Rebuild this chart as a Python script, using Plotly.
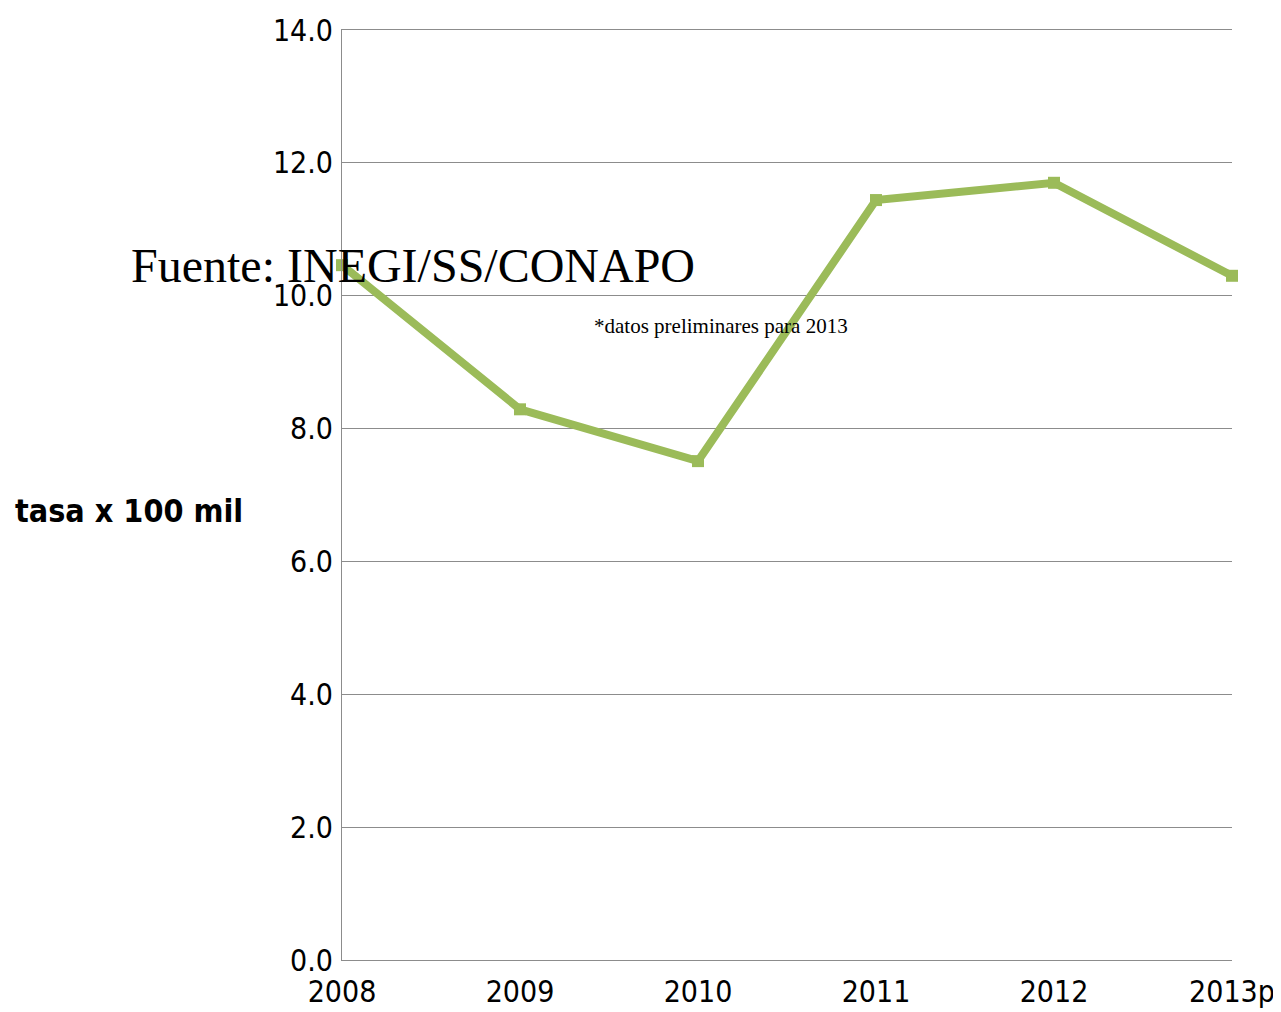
import plotly.graph_objects as go

years = ["2008", "2009", "2010", "2011", "2012", "2013p"]
tasa = [10.46, 8.29, 7.51, 11.44, 11.70, 10.30]
y_ticks = [0, 2, 4, 6, 8, 10, 12, 14]

fuente = "Fuente: INEGI/SS/CONAPO"
nota = "*datos preliminares para 2013"
y_title = "tasa x 100 mil"

green = "#9BBB59"
tick_font = dict(family="DejaVu Sans Condensed, DejaVu Sans", size=30, color="#000000")

fig = go.Figure()
fig.add_trace(go.Scatter(
    x=list(range(len(years))), y=tasa, mode="lines+markers",
    line=dict(color=green, width=8),
    marker=dict(symbol="square", size=12, color=green),
    showlegend=False, cliponaxis=False,
))

# page body has an 8px margin, so the figure is a bit smaller than the window
fig.update_layout(
    width=1273, height=1004,
    margin=dict(l=334, r=49, t=22, b=52),
    plot_bgcolor="white", paper_bgcolor="white",
    xaxis=dict(
        range=[0, len(years) - 1], tickmode="array",
        tickvals=list(range(len(years))), ticktext=years,
        showgrid=False, zeroline=False, showline=True, mirror=True,
        linecolor="#8c8c8c", linewidth=1, automargin=False,
        tickfont=tick_font, ticks="", ticklabelstandoff=5,
    ),
    yaxis=dict(
        range=[0, 14], tickvals=y_ticks, ticktext=[f"{v:.1f}" for v in y_ticks],
        showgrid=True, gridcolor="#8c8c8c", gridwidth=1, automargin=False,
        zeroline=False, showline=True, linecolor="#8c8c8c", linewidth=1,
        tickfont=tick_font, ticks="", ticklabelstandoff=2,
    ),
    annotations=[
        dict(text=fuente, xref="paper", yref="paper", x=(413 - 342) / 890, y=(960 - 265) / 930,
             showarrow=False, xanchor="center", yanchor="middle",
             font=dict(family="Liberation Serif", size=48, color="#000000")),
        dict(text=nota, xref="paper", yref="paper", x=(721 - 342) / 890, y=(960 - 326) / 930,
             showarrow=False, xanchor="center", yanchor="middle",
             font=dict(family="Liberation Serif", size=21, color="#000000")),
        dict(text="<b>" + y_title + "</b>", xref="paper", yref="paper", x=-329 / 890, y=(960 - 511) / 930,
             showarrow=False, xanchor="left", yanchor="middle",
             font=dict(family="DejaVu Sans Condensed, DejaVu Sans", size=32, color="#000000")),
    ],
)

fig.write_html("out.html")
